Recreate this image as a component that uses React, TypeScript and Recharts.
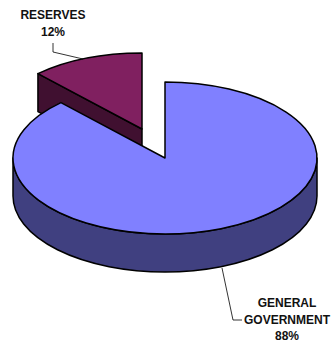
import { PieChart, Pie, Cell } from "recharts";

const categories = ["RESERVES", "GENERAL GOVERNMENT"];
const shares = [12, 88];
const topColors = ["#802060", "#8080FF"];
const sideColors = ["#401030", "#404080"];

const rows = categories.map((name, i) => ({ name, value: shares[i] }));

const SQUASH = 0.5; // vertical flattening of the disc
const DEPTH = 38;
const EXPLODE_X = -23;
const EXPLODE_Y = -29;
const RAD = Math.PI / 180;

// Flattens a recharts sector into a tilted slice with side walls.
const Slice3D = (props: any) => {
  const { cx, cy, outerRadius: r, startAngle, endAngle, index, name, payload } = props;
  const idx = index ?? categories.indexOf(name ?? payload?.name);
  const x0 = cx + (idx === 0 ? EXPLODE_X : 0);
  const y0 = cy + (idx === 0 ? EXPLODE_Y : 0);
  const ry = r * SQUASH;
  const pt = (a: number, dz = 0): [number, number] => [
    x0 + r * Math.cos(a * RAD),
    y0 - ry * Math.sin(a * RAD) + dz,
  ];
  const [sx, sy] = pt(startAngle);
  const [ex, ey] = pt(endAngle);
  const large = Math.abs(startAngle - endAngle) > 180 ? 1 : 0;
  const top = `M${x0},${y0} L${sx},${sy} A${r},${ry} 0 ${large} 1 ${ex},${ey} Z`;

  const walls: string[] = [];
  // radial cut faces turned towards the viewer
  [
    { a: startAngle, normal: startAngle + 90 },
    { a: endAngle, normal: endAngle - 90 },
  ].forEach(({ a, normal }) => {
    if (Math.sin(normal * RAD) < -1e-6) {
      const [px, py] = pt(a);
      walls.push(
        `M${x0},${y0} L${px},${py} L${px},${py + DEPTH} L${x0},${y0 + DEPTH} Z`
      );
    }
  });
  // rim along the front half of the disc
  if (idx === 1) {
    const [lx, ly] = pt(180);
    const [rx, ry2] = pt(0);
    walls.push(
      `M${lx},${ly} A${r},${ry} 0 0 0 ${rx},${ry2} L${rx},${ry2 + DEPTH} A${r},${ry} 0 0 1 ${lx},${ly + DEPTH} Z`
    );
  }

  return (
    <g stroke="#000" strokeWidth={1.5} strokeLinejoin="round">
      {walls.map((d) => (
        <path key={d} d={d} fill={sideColors[idx]} />
      ))}
      <path d={top} fill={topColors[idx]} />
    </g>
  );
};

const labelStyle = {
  fontFamily: "Liberation Sans, Arial, sans-serif",
  fontWeight: 700,
  fontSize: 12,
  fill: "#111",
};

// Callout text and its leader line for each slice.
const SliceLabel = (props: any) => {
  const { index, name, value } = props;
  const percent = `${value}%`;
  if (index === 0) {
    return (
      <g>
        <polyline points="53,43 53,52 83,59" fill="none" stroke="#000" strokeWidth={0.8} />
        <text x={53} y={19} textAnchor="middle" {...labelStyle}>{name}</text>
        <text x={53} y={36} textAnchor="middle" {...labelStyle}>{percent}</text>
      </g>
    );
  }
  const words = String(name).split(" ");
  return (
    <g>
      <polyline points="222,268 233,320 242,320" fill="none" stroke="#000" strokeWidth={0.8} />
      <text x={287} y={307} textAnchor="middle" {...labelStyle}>{words[0]}</text>
      <text x={287} y={324} textAnchor="middle" {...labelStyle}>{words[1]}</text>
      <text x={287} y={340} textAnchor="middle" {...labelStyle}>{percent}</text>
    </g>
  );
};

export default function App() {
  return (
    <div style={{ position: "absolute", left: 0, top: 0, width: 333, height: 343 }}>
      <PieChart width={333} height={343} margin={{ top: 0, right: 0, bottom: 0, left: 0 }}>
        <Pie
          data={rows}
          dataKey="value"
          nameKey="name"
          cx={165}
          cy={158}
          outerRadius={152}
          startAngle={133.2}
          endAngle={-226.8}
          paddingAngle={0}
          shape={Slice3D}
          label={SliceLabel}
          labelLine={false}
          isAnimationActive={false}
        >
          {rows.map((row, i) => (
            <Cell key={row.name} fill={topColors[i]} />
          ))}
        </Pie>
      </PieChart>
    </div>
  );
}
